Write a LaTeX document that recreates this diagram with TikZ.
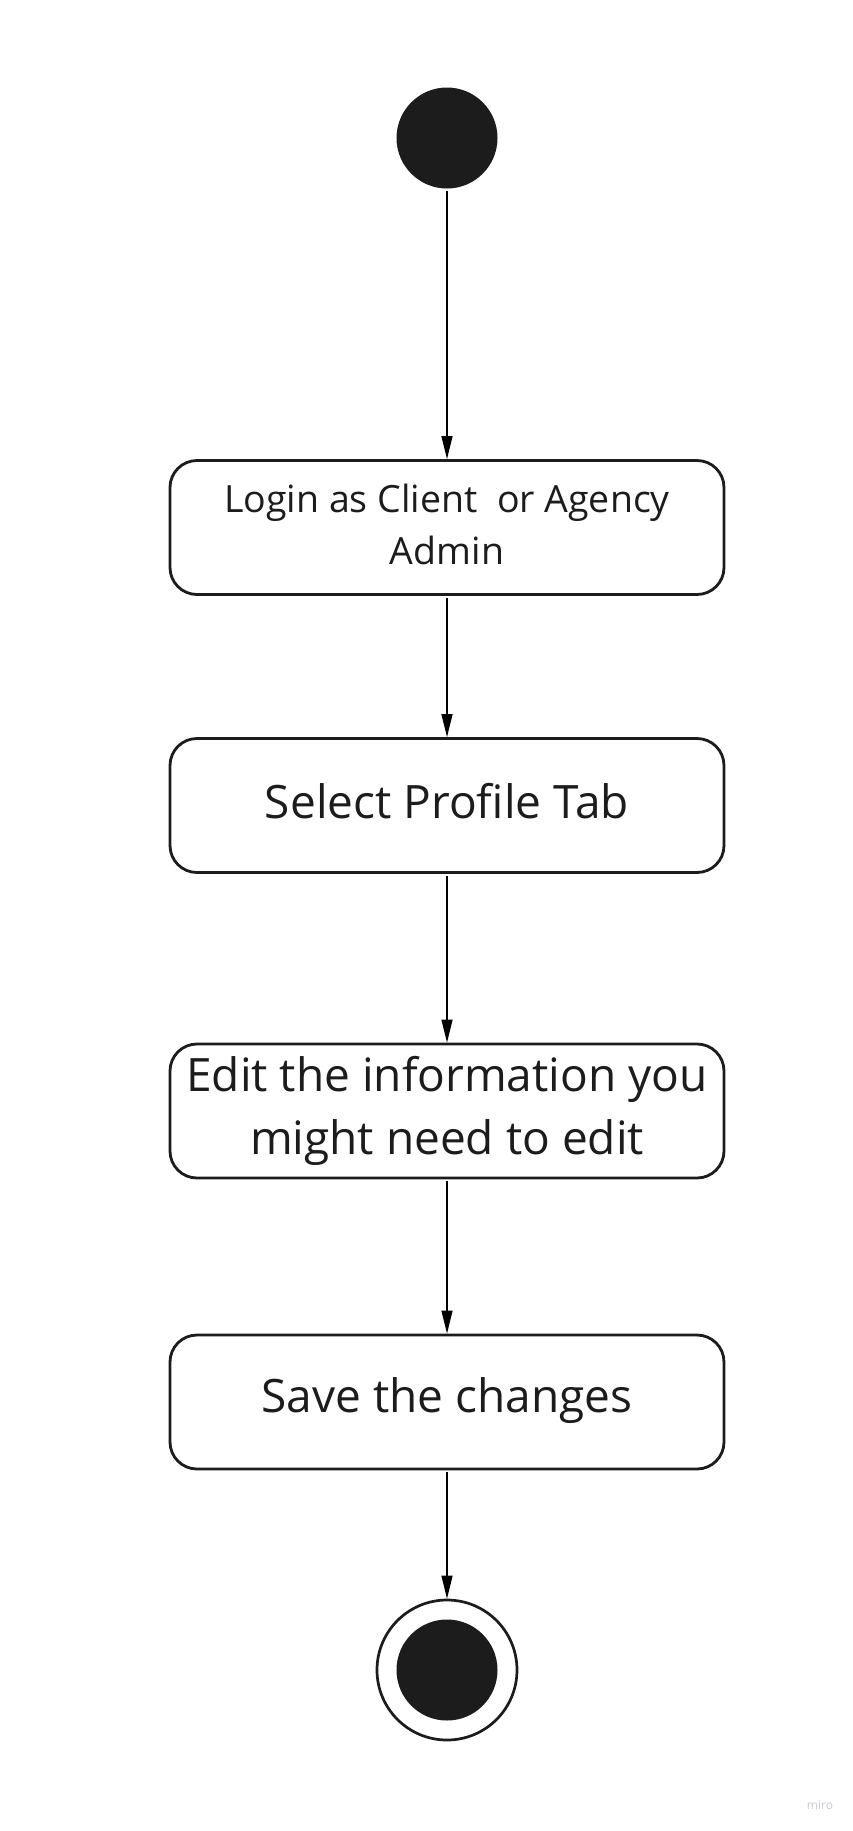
\documentclass[tikz,border=0pt]{standalone}
\usepackage{fontspec}
\setmainfont{Open Sans}
\usetikzlibrary{arrows.meta}
\definecolor{ink}{HTML}{1C1C1C}
\definecolor{wm}{HTML}{C9C9D2}
\tikzset{
  actbox/.style={draw=ink, line width=2.8pt, rounded corners=27pt, fill=white,
    minimum width=554pt, minimum height=134pt, inner sep=0pt, align=center,
    text=ink, font=\fontsize{46}{63}\selectfont},
  smalltext/.style={font=\fontsize{37.5}{52}\selectfont},
  flow/.style={draw=black, line width=1.4pt, -{Triangle[length=23pt,width=11pt]}, shorten <=2pt},
  startdot/.style={circle, fill=ink, draw=none, minimum size=101pt, inner sep=0pt},
  enddot/.style={circle, fill=ink, draw=none, minimum size=101pt, inner sep=0pt},
  endring/.style={circle, draw=ink, line width=2.7pt, fill=white, minimum size=140pt, inner sep=0pt}
}
\begin{document}
\begin{tikzpicture}[x=1pt,y=-1pt]
\useasboundingbox (0,0) rectangle (853,1831);
\node[startdot] (start) at (447,138) {};
\node[actbox, smalltext, text depth=7pt] (login) at (447,527.5) {Login as Client\ \ or Agency\\Admin};
\node[actbox, text depth=10pt] (profile) at (447,805.5) {Select Profile Tab};
\node[actbox] (edit) at (447,1111) {Edit the information you\\might need to edit};
\node[actbox, text depth=13pt] (save) at (447,1402) {Save the changes};
\node[endring] (endo) at (447,1670) {};
\node[enddot] (endi) at (447,1670) {};
\draw[flow] (start) -- (login);
\draw[flow] (login) -- (profile);
\draw[flow] (profile) -- (edit);
\draw[flow] (edit) -- (save);
\draw[flow] (save) -- (endo);
\node[text=wm, font=\fontsize{12}{14}\selectfont, anchor=base] (miro) at (820,1809) {miro};
\end{tikzpicture}
\end{document}
